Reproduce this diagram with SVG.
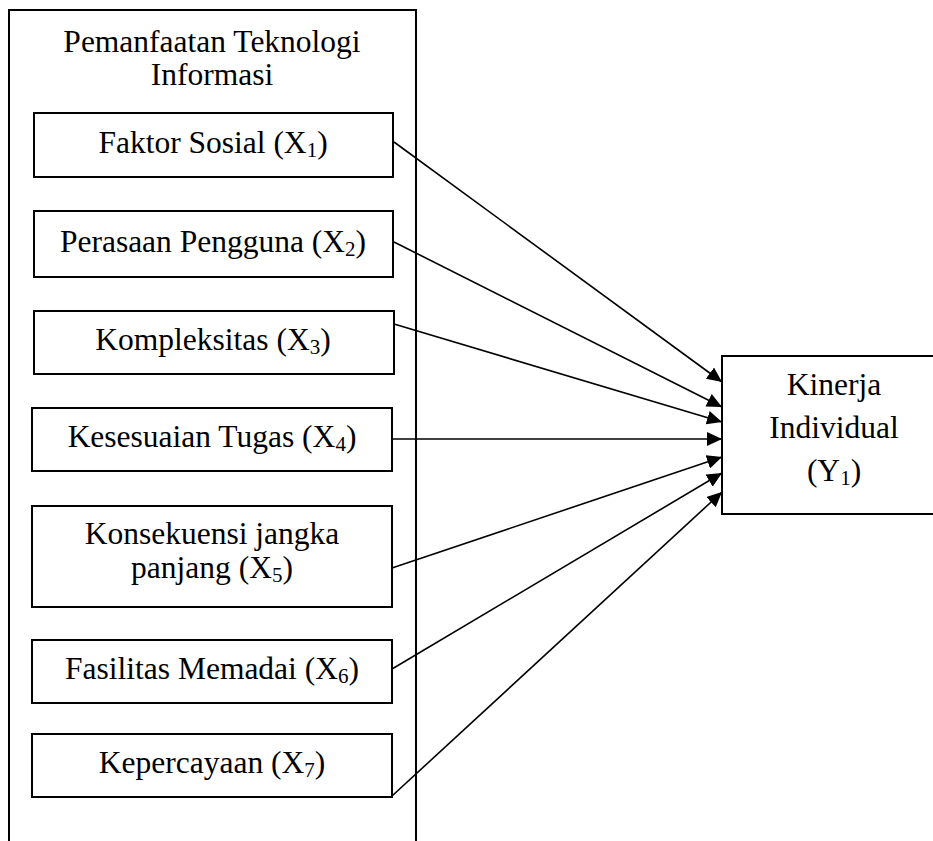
<svg xmlns="http://www.w3.org/2000/svg" width="933" height="841" viewBox="0 0 933 841">
<style>
  .box { fill: #ffffff; stroke: #000000; stroke-width: 2; }
  .frame { fill: none; stroke: #000000; stroke-width: 2; }
  .lbl { font-family: "Liberation Serif", "Times New Roman", serif; font-size: 31.5px; fill: #000000; text-anchor: middle; }
  .sub { font-size: 21px; }
  .conn { stroke: #000000; stroke-width: 1.6; fill: none; marker-end: url(#arrow); }
</style>
<defs>
  <marker id="arrow" markerUnits="userSpaceOnUse" markerWidth="16" markerHeight="14" refX="15" refY="7" orient="auto">
    <path d="M0,0 L15,7 L0,14 z" fill="#000000"/>
  </marker>
</defs>
<rect x="0" y="0" width="933" height="841" fill="#ffffff"/>

<g id="group-pti">
  <path class="frame" d="M9,850 V10 H416 V850"/>
  <text class="lbl" x="212" y="52">Pemanfaatan Teknologi</text>
  <text class="lbl" x="212" y="85">Informasi</text>
</g>

<g id="x1">
  <rect class="box" x="34" y="113" width="359" height="64"/>
  <text class="lbl" x="213" y="153">Faktor Sosial (X<tspan class="sub" dy="4">1</tspan><tspan dy="-4">)</tspan></text>
</g>
<g id="x2">
  <rect class="box" x="34" y="211" width="359" height="66"/>
  <text class="lbl" x="213" y="252">Perasaan Pengguna (X<tspan class="sub" dy="4">2</tspan><tspan dy="-4">)</tspan></text>
</g>
<g id="x3">
  <rect class="box" x="34" y="311" width="360" height="63"/>
  <text class="lbl" x="213" y="350">Kompleksitas (X<tspan class="sub" dy="4">3</tspan><tspan dy="-4">)</tspan></text>
</g>
<g id="x4">
  <rect class="box" x="32" y="408" width="360" height="63"/>
  <text class="lbl" x="212" y="447">Kesesuaian Tugas (X<tspan class="sub" dy="4">4</tspan><tspan dy="-4">)</tspan></text>
</g>
<g id="x5">
  <rect class="box" x="32" y="506" width="360" height="101"/>
  <text class="lbl" x="212" y="544">Konsekuensi jangka</text>
  <text class="lbl" x="212" y="578">panjang (X<tspan class="sub" dy="4">5</tspan><tspan dy="-4">)</tspan></text>
</g>
<g id="x6">
  <rect class="box" x="32" y="640" width="360" height="63"/>
  <text class="lbl" x="212" y="679">Fasilitas Memadai (X<tspan class="sub" dy="4">6</tspan><tspan dy="-4">)</tspan></text>
</g>
<g id="x7">
  <rect class="box" x="32" y="734" width="360" height="63"/>
  <text class="lbl" x="212" y="773">Kepercayaan (X<tspan class="sub" dy="4">7</tspan><tspan dy="-4">)</tspan></text>
</g>

<g id="y1">
  <rect class="box" x="722" y="356" width="230" height="158"/>
  <text class="lbl" x="834" y="395">Kinerja</text>
  <text class="lbl" x="834" y="438">Individual</text>
  <text class="lbl" x="834" y="481">(Y<tspan class="sub" dy="4">1</tspan><tspan dy="-4">)</tspan></text>
</g>

<g id="connectors">
  <line class="conn" x1="394" y1="142" x2="722" y2="382"/>
  <line class="conn" x1="394" y1="242" x2="722" y2="407"/>
  <line class="conn" x1="394" y1="324" x2="722" y2="422"/>
  <line class="conn" x1="392" y1="439" x2="722" y2="439"/>
  <line class="conn" x1="392" y1="568" x2="722" y2="457"/>
  <line class="conn" x1="392" y1="669" x2="722" y2="473"/>
  <line class="conn" x1="392" y1="796" x2="722" y2="492"/>
</g>
</svg>
